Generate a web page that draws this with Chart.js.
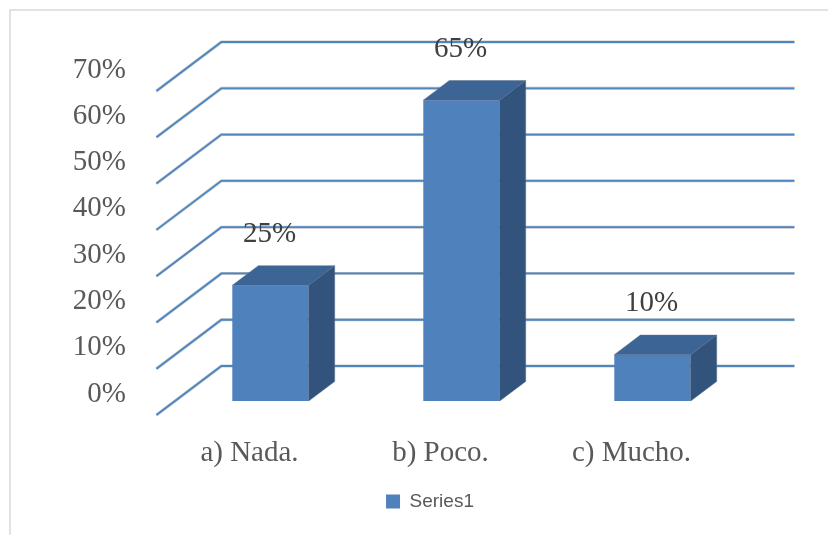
<!DOCTYPE html>
<html>
<head>
<meta charset="utf-8">
<script src="https://cdn.jsdelivr.net/npm/chart.js@4.4.1/dist/chart.umd.min.js"></script>
<style>
  html, body { margin: 0; padding: 0; background: #ffffff; }
  #wrap { width: 828px; height: 535px; }
</style>
</head>
<body>
<div id="wrap"><canvas id="c" width="828" height="535"></canvas></div>
<script>
// Survey answers and their shares (percent)
const categories = ['a) Nada.', 'b) Poco.', 'c) Mucho.'];
const seriesName = 'Series1';
const seriesValues = [25, 65, 10];
const yTickValues = [0, 10, 20, 30, 40, 50, 60, 70];

// Pseudo-3D geometry: vector from the floor's front edge to the back wall,
// where the bar front faces sit along that depth, and how deep each bar is.
const DEPTH_DX = 65, DEPTH_DY = -49;
const FRONT_FRACTION = 0.286;
const BAR_FRACTION = 0.4;

const SERIF = '"Liberation Serif", "Times New Roman", serif';
const TEXT_GREY = '#595959';

const frame = {
  id: 'frame',
  beforeDraw(chart) {
    const ctx = chart.ctx;
    ctx.save();
    ctx.strokeStyle = '#d9d9d9';
    ctx.lineWidth = 1.5;
    ctx.beginPath();
    ctx.moveTo(10, chart.height + 2);
    ctx.lineTo(10, 10);
    ctx.lineTo(chart.width + 2, 10);
    ctx.stroke();
    ctx.restore();
  }
};

const wallGrid = {
  id: 'wallGrid',
  beforeDatasetsDraw(chart) {
    const ctx = chart.ctx, a = chart.chartArea, ys = chart.scales.y;
    const fx = -FRONT_FRACTION * DEPTH_DX, fy = -FRONT_FRACTION * DEPTH_DY;
    const bx = (1 - FRONT_FRACTION) * DEPTH_DX, by = (1 - FRONT_FRACTION) * DEPTH_DY;
    ctx.save();
    ctx.lineCap = 'butt';
    ys.ticks.forEach(t => {
      const py = ys.getPixelForValue(t.value);
      ctx.beginPath();
      ctx.moveTo(a.left + fx, py + fy);
      ctx.lineTo(a.left + bx, py + by);
      ctx.lineTo(a.right + bx, py + by);
      ctx.strokeStyle = 'rgba(120,130,145,0.45)';
      ctx.lineWidth = 3;
      ctx.stroke();
      ctx.strokeStyle = '#4f86c0';
      ctx.lineWidth = 1.8;
      ctx.stroke();
    });
    ctx.restore();
  }
};

const barSides = {
  id: 'barSides',
  afterDatasetsDraw(chart) {
    const ctx = chart.ctx;
    const ddx = BAR_FRACTION * DEPTH_DX, ddy = BAR_FRACTION * DEPTH_DY;
    const meta = chart.getDatasetMeta(0);
    ctx.save();
    meta.data.forEach((bar, i) => {
      const p = bar.getProps(['x', 'y', 'width', 'base'], true);
      const x0 = p.x - p.width / 2, x1 = p.x + p.width / 2;
      // top face
      ctx.beginPath();
      ctx.moveTo(x0, p.y);
      ctx.lineTo(x1, p.y);
      ctx.lineTo(x1 + ddx, p.y + ddy);
      ctx.lineTo(x0 + ddx, p.y + ddy);
      ctx.closePath();
      ctx.fillStyle = '#3c6494';
      ctx.fill();
      ctx.strokeStyle = 'rgba(90,110,140,0.6)';
      ctx.lineWidth = 0.8;
      ctx.stroke();
      // right face
      ctx.beginPath();
      ctx.moveTo(x1, p.y);
      ctx.lineTo(x1 + ddx, p.y + ddy);
      ctx.lineTo(x1 + ddx, p.base + ddy);
      ctx.lineTo(x1, p.base);
      ctx.closePath();
      ctx.fillStyle = '#31537c';
      ctx.fill();
      ctx.stroke();
      // value label above the bar
      ctx.fillStyle = '#404040';
      ctx.font = '29px ' + SERIF;
      ctx.textAlign = 'center';
      ctx.textBaseline = 'middle';
      ctx.fillText(seriesValues[i] + '%', p.x - 1, p.y - 51);
    });
    ctx.restore();
  }
};

new Chart(document.getElementById('c'), {
  type: 'bar',
  data: {
    labels: categories,
    datasets: [{
      label: seriesName,
      data: seriesValues,
      backgroundColor: '#4f81bd',
      borderColor: 'rgba(90,120,160,0.7)',
      borderWidth: 0,
      barPercentage: 0.4,
      categoryPercentage: 1.0,
      yAxisID: 'y'
    }]
  },
  options: {
    responsive: false,
    animation: false,
    devicePixelRatio: 1,
    layout: { padding: { left: 32, right: 0, top: 77, bottom: 14 } },
    plugins: {
      tooltip: { enabled: false },
      legend: {
        position: 'bottom',
        labels: {
          boxWidth: 14,
          boxHeight: 14,
          color: TEXT_GREY,
          padding: 10,
          font: { family: '"Liberation Sans", Arial, sans-serif', size: 19 }
        }
      }
    },
    scales: {
      x: {
        grid: { display: false, drawTicks: false },
        border: { display: false },
        ticks: {
          color: TEXT_GREY,
          font: { family: SERIF, size: 29 },
          padding: 35,
          labelOffset: -21,
          maxRotation: 0
        },
        afterFit(s) { s.height = 81; }
      },
      y: {
        min: 0,
        max: 70,
        afterBuildTicks(s) { s.ticks = yTickValues.map(v => ({ value: v })); },
        grid: { display: false, drawTicks: false },
        border: { display: false },
        ticks: {
          color: TEXT_GREY,
          font: { family: SERIF, size: 29 },
          padding: 49,
          labelOffset: -7,
          callback: v => v + '%'
        },
        afterFit(s) { s.width = 143; }
      },
      yRight: {
        position: 'right',
        display: true,
        grid: { display: false, drawTicks: false },
        border: { display: false },
        ticks: { display: false },
        afterFit(s) { s.width = 80; }
      }
    }
  },
  plugins: [frame, wallGrid, barSides]
});
</script>
</body>
</html>
